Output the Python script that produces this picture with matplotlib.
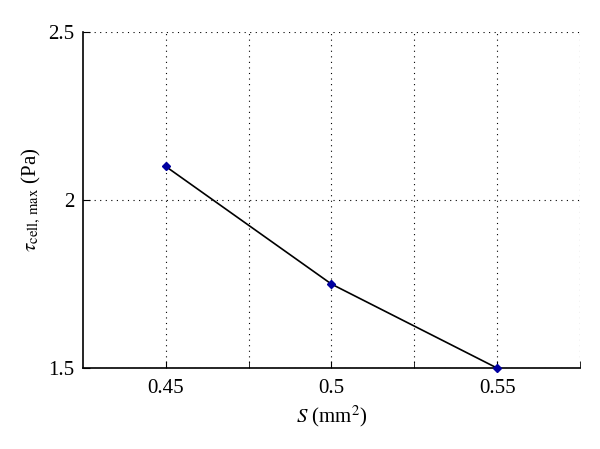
import numpy as np
import matplotlib
matplotlib.use('Agg')
import matplotlib.pyplot as plt

# Dados
S = [0.45, 0.5, 0.55]
tau_max = [2.1, 1.75, 1.5]
xticks = [0.45, 0.5, 0.55]
xminor = [0.475, 0.525, 0.575]
yticks = [1.5, 2.0, 2.5]

plt.rcParams['font.family'] = 'Liberation Serif'
plt.rcParams['mathtext.fontset'] = 'stix'

fig = plt.figure(figsize=(6, 4.49), dpi=100)
ax = fig.add_axes([0.138, 0.18, 0.829, 0.749])

ax.plot(S, tau_max, color='black', linewidth=1.2, zorder=3)
ax.plot(S, tau_max, linestyle='none', marker='D', markersize=4,
        color='#0000a0', zorder=4, clip_on=False)

ax.set_xlim(0.425, 0.575)
ax.set_ylim(1.5, 2.5)
ax.set_xticks(xticks)
ax.set_xticklabels(['0.45', '0.5', '0.55'])
ax.set_xticks(xminor, minor=True)
ax.set_yticks(yticks)
ax.set_yticklabels(['1.5', '2', '2.5'])

ax.grid(True, which='both', axis='x', linestyle=(0, (1, 4)), color='black', linewidth=0.8)
ax.grid(True, which='major', axis='y', linestyle=(0, (1, 4)), color='black', linewidth=0.8)

ax.spines['top'].set_visible(False)
ax.spines['right'].set_visible(False)
for sp in ['left', 'bottom']:
    ax.spines[sp].set_linewidth(1.2)

ax.tick_params(which='both', direction='in', length=5, labelsize=15)
ax.tick_params(axis='x', pad=8)
ax.tick_params(axis='y', pad=6)

ax.set_xlabel(r'$S$ (mm$^2$)', fontsize=15, labelpad=4)
ax.set_ylabel(r'$\tau_{\mathrm{cell,\,max}}$ (Pa)', fontsize=15, labelpad=4)

plt.savefig('out.png', dpi=100)
